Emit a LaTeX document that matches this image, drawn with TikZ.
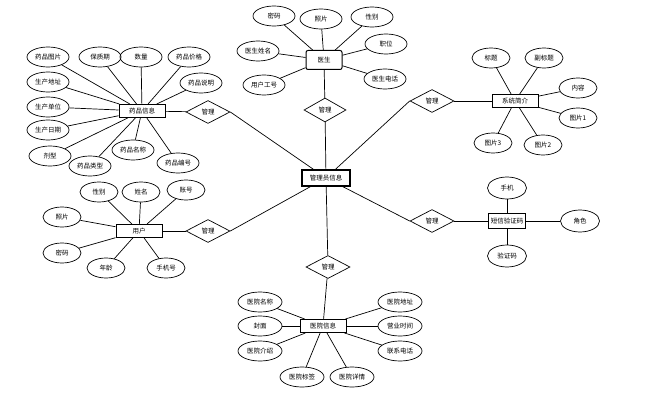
\documentclass[tikz,border=0pt]{standalone}
\usepackage{fontspec}
\setmainfont{Noto Sans CJK SC}
\usetikzlibrary{shapes.geometric}

\tikzset{
  attr/.style={ellipse, draw, line width=0.7pt, minimum width=42pt, minimum height=20pt, inner sep=0pt, font=\fontsize{6.5}{7.5}\selectfont},
  entity/.style={rectangle, draw, line width=1pt, minimum width=46pt, minimum height=13pt, inner sep=1pt, font=\fontsize{6.5}{7.5}\selectfont},
  rel/.style={diamond, draw, line width=0.7pt, minimum width=44pt, minimum height=23pt, inner sep=0pt, font=\fontsize{6.5}{7.5}\selectfont},
}

\begin{document}
\begin{tikzpicture}[x=1pt, y=-1pt, line width=0.7pt]

    \useasboundingbox (0,0) rectangle (652,403);

    % entities
    \node[entity, line width=1.1pt, minimum width=48pt, minimum height=16pt] (admin) at (326,178) {管理员信息};
    \node[entity] (drug) at (142,111) {药品信息};
    \node[entity, rounded corners=2pt, minimum width=36pt, minimum height=19pt] (doctor) at (324,60) {医生};
    \node[entity] (intro) at (515,101) {系统简介};
    \node[entity] (user) at (139,231) {用户};
    \node[entity, minimum width=37pt, minimum height=15pt, inner sep=0.5pt] (sms) at (507,221) {短信验证码};
    \node[entity] (hosp) at (323,326) {医院信息};

    % relations
    \node[rel] (rdrug) at (208,112) {管理};
    \node[rel, minimum width=42pt, minimum height=24pt] (rdoc) at (325,110) {管理};
    \node[rel] (rintro) at (432,101) {管理};
    \node[rel] (ruser) at (208,231) {管理};
    \node[rel] (rsms) at (432,221) {管理};
    \node[rel] (rhosp) at (328,267) {管理};

    \draw (rdrug) -- (drug);   \draw (rdrug.east) -- (admin);
    \draw (rdoc) -- (doctor);  \draw (rdoc) -- (admin);
    \draw (rintro) -- (intro); \draw (rintro.west) -- (admin);
    \draw (ruser) -- (user);   \draw (ruser.east) -- (admin);
    \draw (rsms) -- (sms);     \draw (rsms.west) -- (admin);
    \draw (rhosp) -- (hosp);   \draw (rhosp) -- (admin);

    % attributes of drug
    \foreach \n/\x/\y/\t in {d1/48/57/药品图片, d2/100/57/保质期, d3/141/57/数量, d4/189/57/药品价格,
        d5/201/83/药品说明, d6/48/82/生产地址, d7/48/107/生产单位, d8/48/130/生产日期,
        d9/50/156/剂型, d10/90/166/药品类型, d11/133/150/药品名称, d12/178/163/药品编号}
    {
        \node[attr] (\n) at (\x,\y) {\t};
        \draw (\n) -- (drug);
    }

    % attributes of doctor
    \foreach \n/\x/\y/\t in {o1/274/16/密码, o2/321/19/照片, o3/372/17/性别, o4/258/51/医生姓名,
        o5/386/44/职位, o6/264/85/用户工号, o7/385/79/医生电话}
    {
        \node[attr] (\n) at (\x,\y) {\t};
        \draw (\n) -- (doctor);
    }

    % attributes of intro
    \foreach \n/\x/\y/\t in {i1/491/58/标题, i2/544/58/副标题, i3/578/88/内容, i4/578/118/图片1,
        i5/493/143/图片3, i6/543/145/图片2}
    {
        \node[attr, minimum width=38pt] (\n) at (\x,\y) {\t};
        \draw (\n) -- (intro);
    }

    % attributes of user
    \foreach \n/\x/\y/\t in {u1/99/192/性别, u2/141/192/姓名, u3/186/190/账号, u4/62/217/照片,
        u5/62/253/密码, u6/106/268/年龄, u7/166/268/手机号}
    {
        \node[attr, minimum width=38pt] (\n) at (\x,\y) {\t};
        \draw (\n) -- (user);
    }

    % attributes of sms
    \foreach \n/\x/\y/\t in {s1/507/188/手机, s2/580/221/角色, s3/507/256/验证码}
    {
        \node[attr, minimum width=39pt, minimum height=22pt] (\n) at (\x,\y) {\t};
        \draw (\n) -- (sms);
    }

    % attributes of hosp
    \foreach \n/\x/\y/\t in {h1/260/302/医院名称, h2/260/326/封面, h3/260/351/医院介绍, h4/400/302/医院地址,
        h5/400/326/营业时间, h6/400/351/联系电话, h7/302/377/医院标签, h8/352/377/医院详情}
    {
        \node[attr, minimum width=44pt] (\n) at (\x,\y) {\t};
        \draw (\n) -- (hosp);
    }

\end{tikzpicture}
\end{document}
